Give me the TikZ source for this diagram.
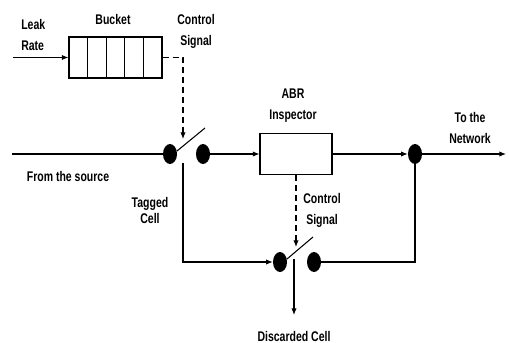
\documentclass[tikz,border=0pt]{standalone}
\usepackage{fontspec}
\setmainfont{Liberation Sans}[FakeStretch=0.75]
\usetikzlibrary{arrows.meta}
\usetikzlibrary{calc}
\usetikzlibrary{shapes.geometric}
\usetikzlibrary{positioning}
\tikzset{
  abdot/.style={
    ellipse, fill=black, inner sep=0pt,
    minimum width=10.5pt, minimum height=15pt},
  abbox/.style={
    draw, line width=0.8pt, inner sep=0pt},
  abarrow/.style={-{Latex[length=5pt, width=4pt]}, line width=0.8pt},
  abline/.style={line width=0.8pt},
  abdash/.style={line width=0.8pt, dash pattern=on 4.5pt off 3pt},
  ablabel/.style={
    font=\bfseries\fontsize{10.5}{15.75}\selectfont,
    align=center, inner sep=0pt},
}

\begin{document}
\begin{tikzpicture}[x=0.75pt, y=-0.75pt]
\useasboundingbox (0,0) rectangle (509,342);

% Leaky bucket with its cells.
\node[abbox, minimum width=69.75pt, minimum height=30.75pt]
  (bucket) at (115.5, 57.5) {};
\foreach \i in {1,...,4}
  \draw[abline] ($(bucket.north west)!\i/5!(bucket.north east)$)
    -- ($(bucket.south west)!\i/5!(bucket.south east)$);
\coordinate (leak) at (13, 57.5);
\draw[abarrow] (leak) -- (bucket.west);
\node[ablabel, align=left, anchor=west] (leaklbl) at (21, 35) {Leak\\Rate};
\node[ablabel] (bucketlbl) at (113, 19) {Bucket};
\node[ablabel] (ctlAlbl) at (196, 31) {Control\\Signal};

% First switch on the main line.
\node[abdot] (s1l) at (170, 154) {};
\node[abdot] (s1r) at (203, 154) {};
\coordinate (arm1a) at (177, 151);
\coordinate (arm1b) at (205, 128);
\draw[abline] (arm1a) -- (arm1b);
\coordinate (ctlA) at (183, 139);
\draw[abdash, -{Latex[length=5pt, width=4pt]}] (bucket.east) -| (ctlA);
\coordinate (src) at (12, 154);
\draw[abline] (src) -- (s1l.west);
\node[ablabel] (srclbl) at (68, 176) {From the source};

% ABR inspector and the network side.
\node[abbox, minimum width=54pt, minimum height=30.75pt]
  (abr) at (296, 154) {};
\node[ablabel] (abrlbl) at (293, 106) {ABR\\Inspector};
\draw[abarrow] (s1r.east) -- (abr.west);
\node[abdot] (jn) at (415, 154) {};
\draw[abarrow] (abr.east) -- (jn.west);
\coordinate (out) at (506, 154);
\draw[abarrow] (jn.east) -- (out);
\node[ablabel] (outlbl) at (470, 128) {To the\\Network};

% Second switch for tagged cells.
\node[abdot] (s2l) at (280, 262) {};
\node[abdot] (s2r) at (314, 262) {};
\coordinate (arm2a) at (287, 259);
\coordinate (arm2b) at (313, 237);
\draw[abline] (arm2a) -- (arm2b);
\coordinate (tag) at (183, 163);
\draw[abarrow] (tag) |- (s2l.west);
\node[ablabel, font=\bfseries\fontsize{10.5}{12}\selectfont]
  (taglbl) at (150, 210) {Tagged\\Cell};
\draw[abline] (jn.south) -- (jn.south |- s2r) -- (s2r.east);
\coordinate (ctlB) at (296, 247);
\draw[abdash, -{Latex[length=5pt, width=4pt]}] (abr.south) -- (ctlB);
\node[ablabel] (ctlBlbl) at (322, 210) {Control\\Signal};
\coordinate (disc0) at (294, 259);
\coordinate (disc) at (294, 315);
\draw[abarrow] (disc0) -- (disc);
\node[ablabel] (disclbl) at (294, 336) {Discarded Cell};

\end{tikzpicture}
\end{document}
